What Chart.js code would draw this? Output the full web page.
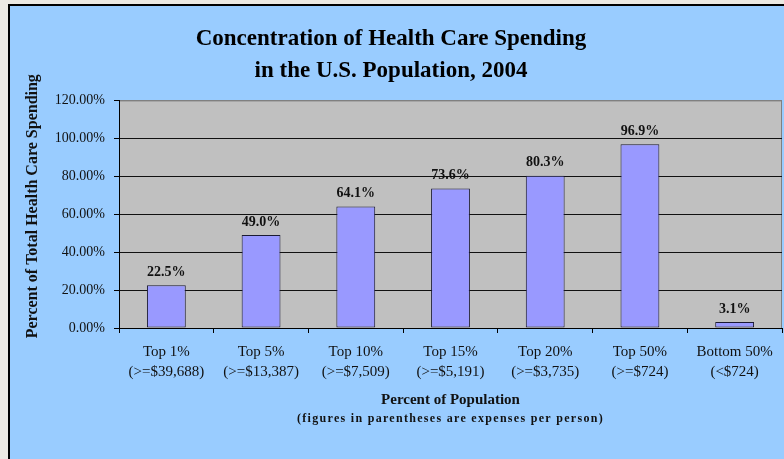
<!DOCTYPE html>
<html>
<head>
<meta charset="utf-8">
<script src="https://cdn.jsdelivr.net/npm/chart.js@4"></script>
<style>
  html, body { margin: 0; padding: 0; background: #ece9e3; }
  canvas { display: block; }
</style>
</head>
<body>
<canvas id="spendChart" width="784" height="459"></canvas>
<script>
// ---- data ----
const groups = ['Top 1%', 'Top 5%', 'Top 10%', 'Top 15%', 'Top 20%', 'Top 50%', 'Bottom 50%'];
const thresholds = ['(>=$39,688)', '(>=$13,387)', '(>=$7,509)', '(>=$5,191)', '(>=$3,735)', '(>=$724)', '(<$724)'];
const shareOfSpending = [22.5, 49.0, 64.1, 73.6, 80.3, 96.9, 3.1];

const SERIF = "'Liberation Serif', 'Times New Roman', serif";

// panel background + plot area fill
const backdrop = {
  id: 'backdrop',
  beforeDraw(chart) {
    const { ctx, chartArea: a } = chart;
    ctx.save();
    ctx.fillStyle = '#ece9e3';
    ctx.fillRect(0, 0, chart.width, chart.height);
    ctx.fillStyle = '#99ccff';
    ctx.fillRect(9, 5, chart.width, chart.height);
    ctx.strokeStyle = '#000';
    ctx.lineWidth = 2;
    ctx.strokeRect(9, 5, chart.width + 10, chart.height + 10);
    ctx.fillStyle = '#c0c0c0';
    ctx.fillRect(a.left, a.top, a.right - a.left, a.bottom - a.top);
    ctx.strokeStyle = '#808080';
    ctx.lineWidth = 1;
    ctx.strokeRect(a.left + 0.5, a.top + 0.5, a.right - a.left - 1, a.bottom - a.top);
    ctx.restore();
  }
};

// value labels above bars, y title, small note under the x title
const annotate = {
  id: 'annotate',
  afterDatasetsDraw(chart) {
    const { ctx, chartArea: a } = chart;
    ctx.save();
    ctx.font = 'bold 14px ' + SERIF;
    ctx.fillStyle = '#111';
    ctx.textAlign = 'center';
    ctx.textBaseline = 'middle';
    chart.getDatasetMeta(0).data.forEach((bar, i) => {
      ctx.fillText(shareOfSpending[i].toFixed(1) + '%', bar.x, bar.y - 13);
    });

    // y axis title sits a bit above the plot's middle in the original
    ctx.save();
    ctx.translate(33, (a.top + a.bottom) / 2 - 8);
    ctx.rotate(-Math.PI / 2);
    ctx.font = 'bold 16px ' + SERIF;
    ctx.fillText('Percent of Total Health Care Spending', 0, 0);
    ctx.restore();

    const x = chart.scales.x;
    ctx.font = 'bold 12px ' + SERIF;
    ctx.letterSpacing = '1.3px';
    ctx.fillText('(figures in parentheses are expenses per person)', (x.left + x.right) / 2, x.bottom + 11);
    ctx.restore();
  }
};

new Chart(document.getElementById('spendChart'), {
  type: 'bar',
  data: {
    labels: groups.map((g, i) => [g, thresholds[i]]),
    datasets: [{
      data: shareOfSpending,
      backgroundColor: '#9999ff',
      borderColor: '#1a1a33',
      borderWidth: 1,
      borderSkipped: false,
      barPercentage: 0.41,
      categoryPercentage: 1
    }]
  },
  options: {
    responsive: false,
    animation: false,
    devicePixelRatio: 1,
    layout: { padding: { left: 0, right: 2, top: 0, bottom: 51 } },
    plugins: {
      legend: { display: false },
      tooltip: { enabled: false },
      title: {
        display: true,
        text: ['Concentration of Health Care Spending', 'in the U.S. Population, 2004'],
        color: '#000',
        font: { family: SERIF, size: 23, weight: 'bold', lineHeight: 1.4 },
        padding: { top: 23, bottom: 13 }
      }
    },
    scales: {
      x: {
        offset: true,
        afterFit(scale) { scale.height = 80; },
        grid: { display: true, drawOnChartArea: false, drawTicks: true, tickLength: 5, tickColor: '#000', offset: true },
        border: { color: '#000', width: 1 },
        ticks: { color: '#111', padding: 9, maxRotation: 0, autoSkip: false,
                 font: { family: SERIF, size: 15, lineHeight: '20px' } },
        title: {
          display: true,
          text: 'Percent of Population',
          color: '#111',
          font: { family: SERIF, size: 15, weight: 'bold', lineHeight: '16px' },
          padding: { top: 10, bottom: 0 }
        }
      },
      y: {
        min: 0,
        max: 120,
        afterFit(scale) { scale.width = 119; },
        grid: {
          color: (c) => (c.tick && c.tick.value === 120 ? '#808080' : '#111'),
          tickLength: 5,
          tickColor: '#000'
        },
        border: { color: '#000', width: 1 },
        ticks: {
          stepSize: 20,
          padding: 9,
          color: '#111',
          font: { family: SERIF, size: 14 },
          callback: (v) => v.toFixed(2) + '%'
        }
      }
    }
  },
  plugins: [backdrop, annotate]
});
</script>
</body>
</html>
